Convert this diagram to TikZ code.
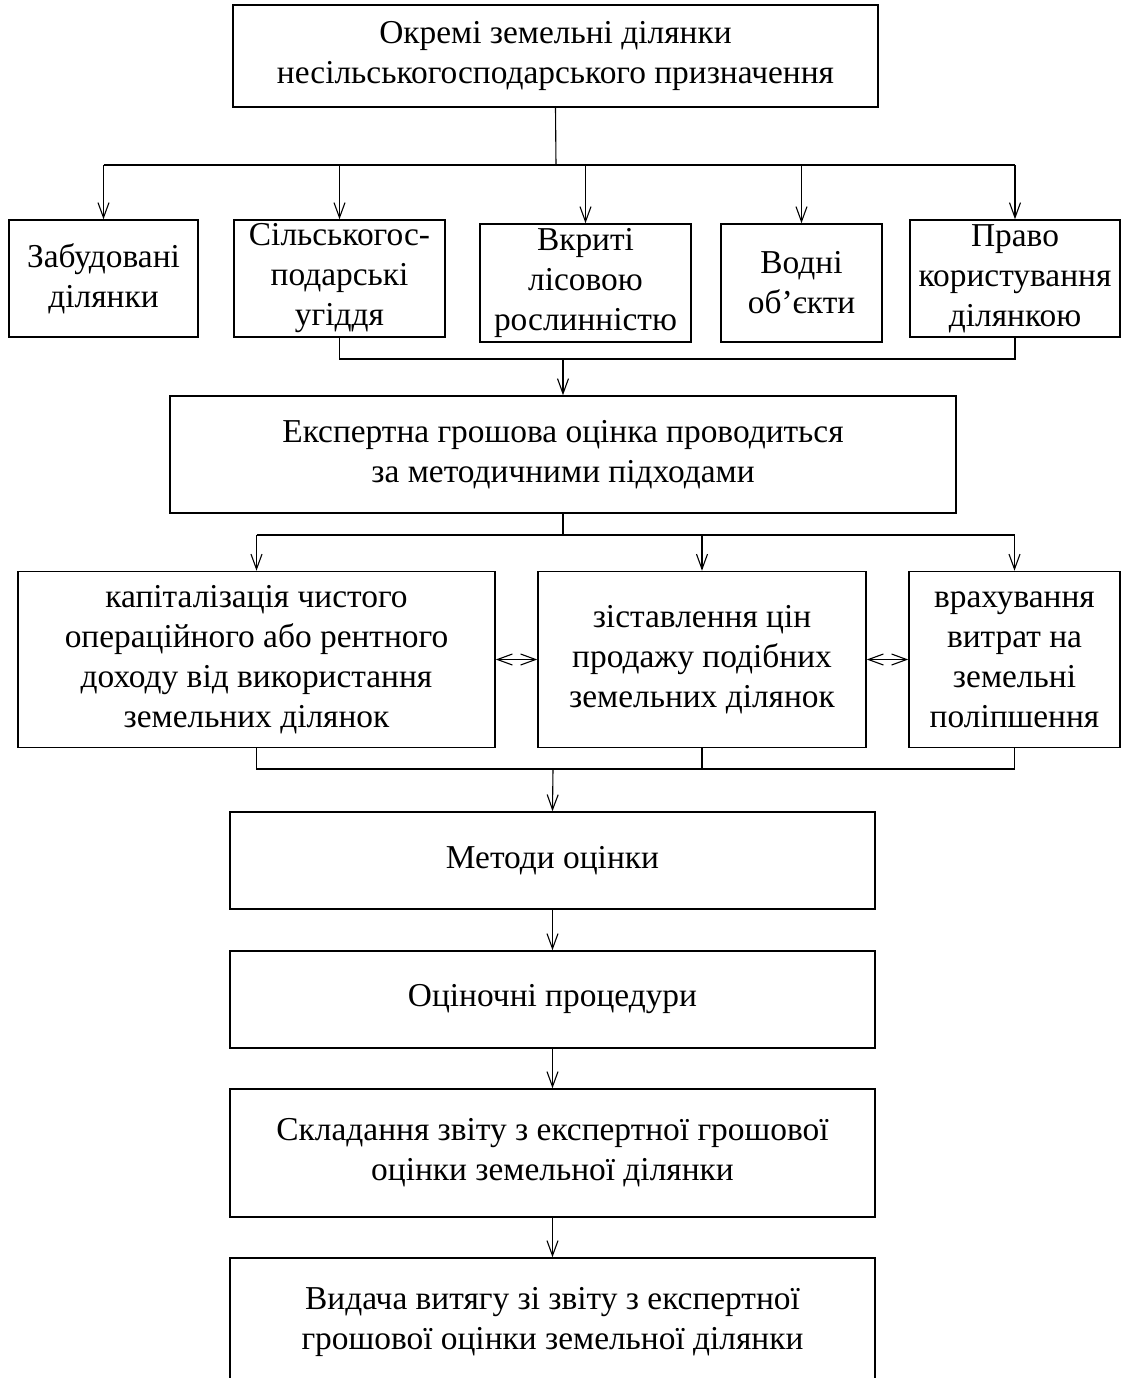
\documentclass[tikz,border=0pt]{standalone}
\usepackage{fontspec}
\setmainfont{Liberation Serif}
\usetikzlibrary{arrows.meta, positioning}

\begin{document}
\begin{tikzpicture}[
        x=0.5pt, y=-0.5pt,
        font=\fontsize{16.7}{20}\selectfont,
        rel/.style={-{Straight Barb[length=7.5pt,width=5.5pt]}, line width=0.55pt},
        both/.style={{Straight Barb[length=7.5pt,width=5.5pt]}-{Straight Barb[length=7.5pt,width=5.5pt]}, line width=0.55pt},
        link/.style={line width=0.55pt},
        block/.style={draw, line width=0.8pt, align=center, inner sep=0pt}
      ]
        \useasboundingbox (0,0) rectangle (1122,1378);
        \node[block, minimum width=322.5pt, minimum height=51pt] (plots) at (555.5,56) {Окремі земельні ділянки\\несільськогосподарського призначення};
        \node[block, minimum width=94.5pt, minimum height=58.5pt] (built) at (103.5,278.5) {Забудовані\\ділянки};
        \node[block, minimum width=105.5pt, minimum height=58.5pt] (farm) at (339.5,278.5) {Сільськогос-\\подарські\\угіддя};
        \node[block, minimum width=105.5pt, minimum height=59pt] (forest) at (585.5,283) {Вкриті\\лісовою\\рослинністю};
        \node[block, minimum width=80.5pt, minimum height=59pt] (water) at (801.5,283) {Водні\\об’єкти};
        \node[block, minimum width=105pt, minimum height=58.5pt] (right) at (1015,278.5) {Право\\користування\\ділянкою};
        \node[block, minimum width=393pt, minimum height=58.5pt] (expert) at (563,454.5) {Експертна грошова оцінка проводиться\\за методичними підходами};
        \node[block, minimum width=238.5pt, minimum height=88pt] (income) at (256.5,659.5) {капіталізація чистого\\операційного або  рентного\\доходу  від використання\\земельних ділянок};
        \node[block, minimum width=164pt, minimum height=88pt] (sales) at (702,659.5) {зіставлення цін\\продажу подібних\\земельних ділянок};
        \node[block, minimum width=105.5pt, minimum height=88pt] (costs) at (1014.5,659.5) {врахування\\витрат на\\земельні\\поліпшення};
        \node[block, minimum width=322.5pt, minimum height=48.5pt] (methods) at (552.5,860.5) {Методи оцінки};
        \node[block, minimum width=322.5pt, minimum height=48.5pt] (proc) at (552.5,999.5) {Оціночні процедури};
        \node[block, minimum width=322.5pt, minimum height=64pt] (report) at (552.5,1153) {Складання звіту з експертної грошової\\оцінки земельної ділянки};
        \node[block, minimum width=322.5pt, minimum height=64pt] (extract) at (552.5,1322) {Видача витягу зі звіту з експертної\\грошової оцінки земельної ділянки};
        % branching to the kinds of plots
        \coordinate (split) at (556,165);
        \draw[link] (plots.south) -- (split);
        \draw[link] (split -| built.north) -- (split -| right.north);
        \draw[rel] (split -| built.north) -- (built.north);
        \draw[rel] (split -| farm.north) -- (farm.north);
        \draw[rel] (split -| forest.north) -- (forest.north);
        \draw[rel] (split -| water.north) -- (water.north);
        \draw[rel] (split -| right.north) -- (right.north);
        % joining to the expert valuation
        \coordinate (join) at (563,359);
        \draw[link] (farm.south) |- (right.south |- join) -- (right.south);
        \draw[rel] (join) -- (expert.north);
        % approaches
        \coordinate (fork) at (563,535);
        \draw[link] (expert.south) -- (fork);
        \draw[link] (fork -| income.north) -- (fork -| costs.north);
        \draw[rel] (fork -| income.north) -- (income.north);
        \draw[rel] (fork -| sales.north) -- (sales.north);
        \draw[rel] (fork -| costs.north) -- (costs.north);
        \draw[both] (income.east) -- (sales.west);
        \draw[both] (sales.east) -- (costs.west);
        % gathering to methods
        \coordinate (merge) at (553,769);
        \draw[link] (income.south) |- (costs.south |- merge) -- (costs.south);
        \draw[link] (sales.south) -- (sales.south |- merge);
        \draw[rel] (merge) -- (methods.north);
        \draw[rel] (methods) -- (proc);
        \draw[rel] (proc) -- (report);
        \draw[rel] (report) -- (extract);
      \end{tikzpicture}
\end{document}
